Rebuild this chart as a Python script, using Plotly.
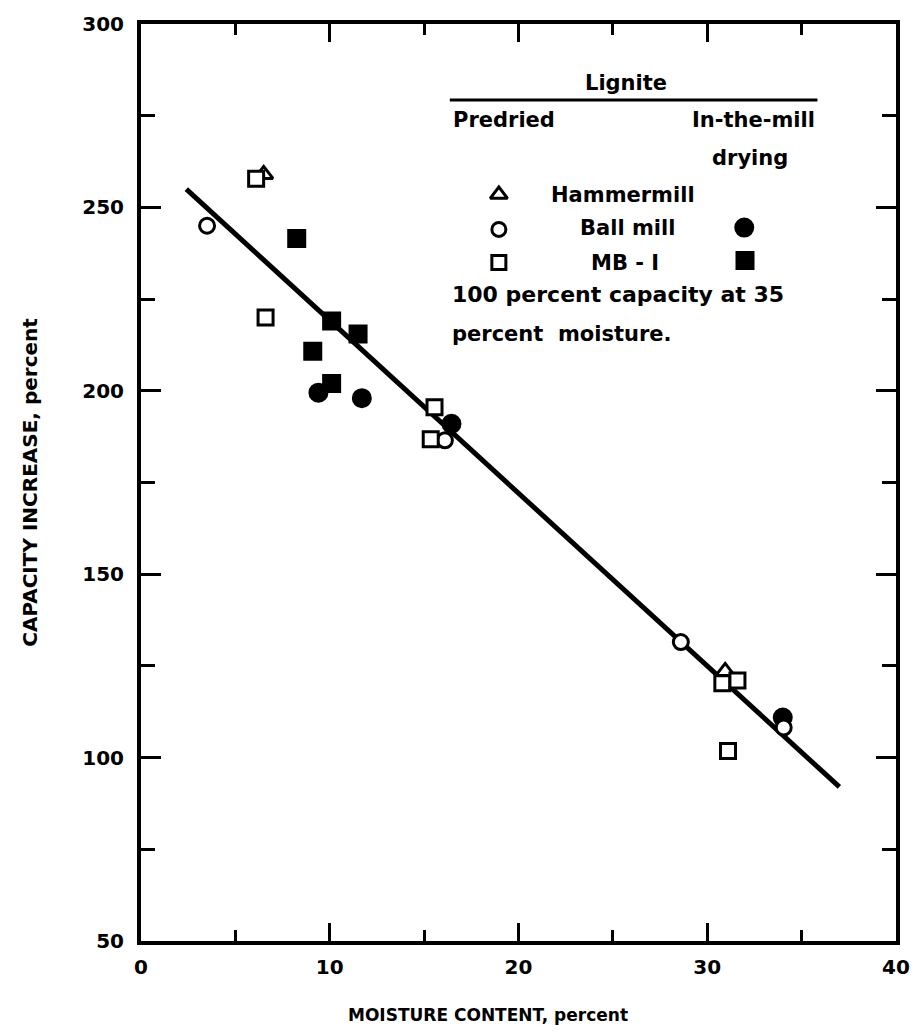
import plotly.graph_objects as go

# ---- data ----
pre_hammer_x = [6.5, 30.95]
pre_hammer_y = [259.0, 123.5]

pre_ball_x = [3.5, 16.1, 28.6, 34.05]
pre_ball_y = [245.0, 186.5, 131.5, 108.2]

pre_mb1_x = [6.1, 6.6, 15.55, 15.35, 30.8, 31.6, 31.1]
pre_mb1_y = [257.8, 220.0, 195.5, 186.8, 120.3, 121.0, 101.8]

mill_ball_x = [9.4, 11.7, 16.45, 34.0]
mill_ball_y = [199.5, 198.0, 191.0, 110.9]

mill_mb1_x = [8.25, 10.1, 11.5, 9.1, 10.1]
mill_mb1_y = [241.5, 219.0, 215.5, 210.8, 202.0]

fit_x = [2.4, 37.0]
fit_y = [255.0, 92.0]

x_ticks = [0, 10, 20, 30, 40]
x_minor = [5, 15, 25, 35]
y_ticks = [50, 100, 150, 200, 250, 300]
y_minor = [75, 125, 175, 225, 275]

FONT = "DejaVu Sans"
BLACK = "#000000"

fig = go.Figure()

fig.add_trace(go.Scatter(x=fit_x, y=fit_y, mode="lines",
                         line=dict(color=BLACK, width=5), hoverinfo="skip"))

def pts(x, y, symbol, fill, size, xa="x", ya="y"):
    fig.add_trace(go.Scatter(
        x=x, y=y, mode="markers", xaxis=xa, yaxis=ya,
        marker=dict(symbol=symbol, size=size, color=fill, opacity=1,
                    line=dict(color=BLACK, width=3))))

pts(mill_ball_x, mill_ball_y, "circle", BLACK, 17)
pts(mill_mb1_x, mill_mb1_y, "square", BLACK, 16)
pts(pre_hammer_x, pre_hammer_y, "triangle-up", "white", 16)
pts(pre_ball_x, pre_ball_y, "circle", "white", 15)
pts(pre_mb1_x, pre_mb1_y, "square", "white", 15)

# ---- key (overlay axis in plot-fraction units) ----
pts([0.474], [0.814], "triangle-up", "white", 15, "x2", "y2")
pts([0.474], [0.776], "circle", "white", 14, "x2", "y2")
pts([0.474], [0.740], "square", "white", 14, "x2", "y2")
pts([0.799], [0.778], "circle", BLACK, 17, "x2", "y2")
pts([0.800], [0.742], "square", BLACK, 16, "x2", "y2")

def note(text, x, y, anchor="center", size=21):
    fig.add_annotation(text=text, x=x, y=y, xref="x2", yref="y2",
                       xanchor=anchor, yanchor="middle", showarrow=False,
                       font=dict(family=FONT, size=size, color=BLACK, weight="bold"))

note("Lignite", 0.643, 0.936)
note("Predried", 0.410, 0.895, "left")
note("In-the-mill", 0.896, 0.895, "right")
note("drying", 0.807, 0.854)
note("Hammermill", 0.639, 0.814)
note("Ball mill", 0.645, 0.777)
note("MB - I", 0.641, 0.739)
note("100 percent capacity at 35", 0.409, 0.705, "left", 22)
note("percent  moisture.", 0.409, 0.662, "left", 21)

fig.add_shape(type="line", xref="x2", yref="y2", x0=0.409, x1=0.896,
              y0=0.917, y1=0.917, line=dict(color=BLACK, width=3))

# axis titles
fig.add_annotation(text="MOISTURE CONTENT, percent", x=0.46, y=-0.0804,
                   xref="paper", yref="paper", showarrow=False,
                   xanchor="center", yanchor="middle",
                   font=dict(family=FONT, size=17, color=BLACK, weight="bold"))
fig.add_annotation(text="CAPACITY INCREASE, percent", x=-0.148, y=0.50,
                   xref="paper", yref="paper", showarrow=False, textangle=-90,
                   xanchor="center", yanchor="middle",
                   font=dict(family=FONT, size=20, color=BLACK, weight="bold"))

axis_common = dict(showgrid=False, zeroline=False, showline=True,
                   linecolor=BLACK, linewidth=4, mirror="ticks",
                   ticks="inside", tickcolor=BLACK, tickwidth=3,
                   tickfont=dict(family=FONT, size=20, color=BLACK, weight="bold"))

fig.update_layout(
    width=922, height=1032,
    margin=dict(l=141, r=20, t=21, b=91),
    paper_bgcolor="white", plot_bgcolor="white",
    showlegend=False,
    xaxis=dict(range=[0, 40], tickvals=x_ticks, ticklen=18, ticklabelstandoff=5,
               minor=dict(tickvals=x_minor, ticklen=11, tickwidth=3,
                          tickcolor=BLACK, ticks="inside"),
               **axis_common),
    yaxis=dict(range=[50, 300], tickvals=y_ticks, ticklen=20, ticklabelstandoff=9,
               minor=dict(tickvals=y_minor, ticklen=14, tickwidth=3,
                          tickcolor=BLACK, ticks="inside"),
               **axis_common),
    xaxis2=dict(range=[0, 1], overlaying="x", visible=False, fixedrange=True),
    yaxis2=dict(range=[0, 1], overlaying="y", visible=False, fixedrange=True),
)

fig.write_html("out.html")
